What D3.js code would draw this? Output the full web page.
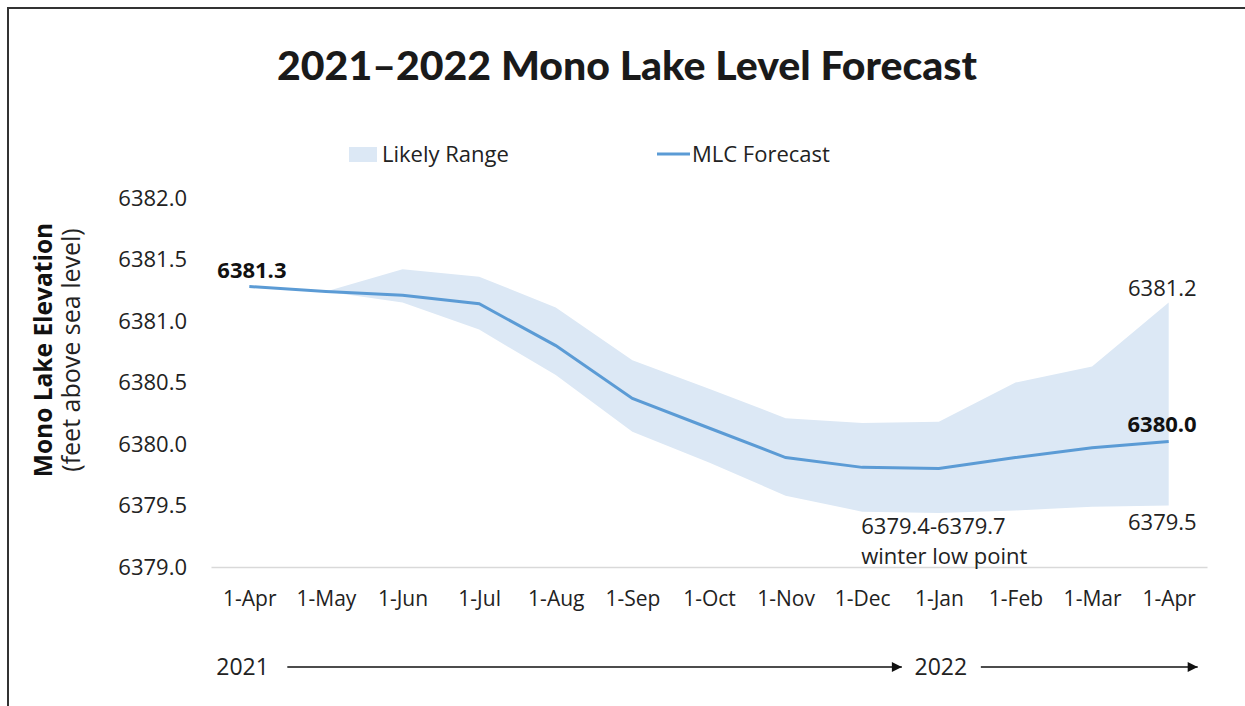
<!DOCTYPE html>
<html>
<head>
<meta charset="utf-8">
<script src="https://cdn.jsdelivr.net/npm/d3@7"></script>
<style>
    body { margin: 0; background: #fff; }
    text { font-family: "Open Sans", "Noto Sans", sans-serif; fill: #222; }
</style>
</head>
<body>
<div id="chart-area"></div>
<script>
const FIGURE = {
    WIDTH: 1245,
    HEIGHT: 706
};
const PLOT = {
    LEFT: 211,
    RIGHT: 1207,
    TOP: 198,
    BOTTOM: 567
};

// Values
const months = ["1-Apr", "1-May", "1-Jun", "1-Jul", "1-Aug", "1-Sep", "1-Oct",
    "1-Nov", "1-Dec", "1-Jan", "1-Feb", "1-Mar", "1-Apr"];
const forecast = [6381.28, 6381.24, 6381.21, 6381.14, 6380.80, 6380.37, 6380.13,
    6379.89, 6379.81, 6379.80, 6379.89, 6379.97, 6380.02];
const rangeHigh = [6381.28, 6381.24, 6381.42, 6381.36, 6381.11, 6380.68, 6380.45,
    6380.21, 6380.17, 6380.18, 6380.50, 6380.63, 6381.15];
const rangeLow = [6381.28, 6381.24, 6381.15, 6380.93, 6380.56, 6380.10, 6379.85,
    6379.58, 6379.45, 6379.44, 6379.46, 6379.49, 6379.50];
const yTicks = [6379.0, 6379.5, 6380.0, 6380.5, 6381.0, 6381.5, 6382.0];
const legendLabels = ["Likely Range", "MLC Forecast"];
const years = ["2021", "2022"];

const BAND_COLOR = "#dce8f5";
const LINE_COLOR = "#5b9bd5";

let svg = d3.select("#chart-area")
    .append("svg")
        .attr("width", FIGURE.WIDTH)
        .attr("height", FIGURE.HEIGHT);

// Frame (top and left edges only)
svg.append("path")
    .attr("d", `M8,${FIGURE.HEIGHT} V8 H${FIGURE.WIDTH}`)
    .attr("fill", "none")
    .attr("stroke", "#333")
    .attr("stroke-width", 2);

let x = d3.scalePoint()
    .domain(d3.range(months.length))
    .range([PLOT.LEFT, PLOT.RIGHT])
    .padding(0.5);

let y = d3.scaleLinear()
    .domain([6379, 6382])
    .range([PLOT.BOTTOM, PLOT.TOP]);

// Title
svg.append("text")
    .attr("x", 627)
    .attr("y", 80)
    .attr("text-anchor", "middle")
    .attr("textLength", 700)
    .attr("lengthAdjust", "spacingAndGlyphs")
    .style("font-family", "Lato, sans-serif")
    .style("font-weight", 900)
    .style("font-size", "40px")
    .style("fill", "#1a1a1a")
    .text("2021\u20132022 Mono Lake Level Forecast");

// Legend
let legend = svg.append("g");
legend.append("rect")
    .attr("x", 349).attr("y", 147)
    .attr("width", 28).attr("height", 15)
    .attr("fill", BAND_COLOR);
legend.append("text")
    .attr("x", 382).attr("y", 162)
    .style("font-size", "22px")
    .text(legendLabels[0]);
legend.append("line")
    .attr("x1", 657).attr("x2", 690)
    .attr("y1", 154).attr("y2", 154)
    .attr("stroke", LINE_COLOR)
    .attr("stroke-width", 3);
legend.append("text")
    .attr("x", 692).attr("y", 162)
    .style("font-size", "22px")
    .text(legendLabels[1]);

// Y axis
let yAxis = d3.axisLeft(y)
    .tickValues(yTicks)
    .tickFormat(d3.format(".1f"))
    .tickSize(0)
    .tickPadding(24);

svg.append("g")
    .attr("class", "y-axis")
    .attr("transform", `translate(${PLOT.LEFT}, 0)`)
    .call(yAxis)
    .call(g => g.select(".domain").remove())
    .selectAll("text")
        .style("font-family", "'Open Sans', sans-serif")
        .style("font-size", "22px")
        .attr("fill", "#222");

// Y axis title
let yTitle = svg.append("g")
    .attr("transform", "translate(0, 350) rotate(-90)");
yTitle.append("text")
    .attr("x", 0).attr("y", 52)
    .attr("text-anchor", "middle")
    .style("font-size", "24.5px")
    .style("font-weight", 700)
    .style("fill", "#111")
    .text("Mono Lake Elevation");
yTitle.append("text")
    .attr("x", 0).attr("y", 80)
    .attr("text-anchor", "middle")
    .style("font-size", "25px")
    .text("(feet above sea level)");

// Likely range band
let area = d3.area()
    .x((d, i) => x(i))
    .y0((d, i) => y(rangeLow[i]))
    .y1((d, i) => y(rangeHigh[i]));

svg.append("path")
    .datum(months)
    .attr("d", area)
    .attr("fill", BAND_COLOR);

// X axis
let xAxis = d3.axisBottom(x)
    .tickFormat(i => months[i])
    .tickSize(0)
    .tickSizeOuter(0)
    .tickPadding(24);

svg.append("g")
    .attr("class", "x-axis")
    .attr("transform", `translate(0, ${PLOT.BOTTOM})`)
    .call(xAxis)
    .call(g => g.select(".domain").attr("stroke", "#d9d9d9").attr("stroke-width", 1.5))
    .selectAll("text")
        .style("font-family", "'Open Sans', sans-serif")
        .style("font-size", "21px")
        .attr("fill", "#222");

// Forecast line
let line = d3.line()
    .x((d, i) => x(i))
    .y(d => y(d));

svg.append("path")
    .datum(forecast)
    .attr("d", line)
    .attr("fill", "none")
    .attr("stroke", LINE_COLOR)
    .attr("stroke-width", 3);

// Annotations
const last = months.length - 1;
let notes = svg.append("g").style("font-size", "22px");

notes.append("text")
    .attr("x", x(0) - 32).attr("y", y(forecast[0]) - 9)
    .style("font-weight", 700)
    .style("fill", "#111")
    .text("6381.3");
notes.append("text")
    .attr("x", x(last) + 28).attr("y", y(rangeHigh[last]) - 7)
    .attr("text-anchor", "end")
    .text("6381.2");
notes.append("text")
    .attr("x", x(last) + 28).attr("y", y(forecast[last]) - 10)
    .attr("text-anchor", "end")
    .style("font-weight", 700)
    .style("fill", "#111")
    .text("6380.0");
notes.append("text")
    .attr("x", x(last) + 28).attr("y", y(rangeLow[last]) + 24)
    .attr("text-anchor", "end")
    .text("6379.5");
notes.append("text")
    .attr("x", x(8) - 1).attr("y", y(rangeLow[8]) + 22)
    .text("6379.4-6379.7");
notes.append("text")
    .attr("x", x(8) - 1).attr("y", y(rangeLow[8]) + 52)
    .text("winter low point");

// Year timeline with arrows
svg.append("defs").append("marker")
    .attr("id", "arrow")
    .attr("viewBox", "0 0 10 10")
    .attr("refX", 10).attr("refY", 5)
    .attr("markerWidth", 12).attr("markerHeight", 10)
    .attr("markerUnits", "userSpaceOnUse")
    .attr("orient", "auto")
    .append("path")
        .attr("d", "M0,0 L10,5 L0,10 Z")
        .attr("fill", "#111");

const TIMELINE_Y = 667;
svg.append("text")
    .attr("x", x(0) - 33).attr("y", TIMELINE_Y + 8)
    .style("font-size", "23px")
    .text(years[0]);
svg.append("line")
    .attr("x1", x(0) + 38).attr("x2", x(9) - 37)
    .attr("y1", TIMELINE_Y).attr("y2", TIMELINE_Y)
    .attr("stroke", "#111").attr("stroke-width", 1.5)
    .attr("marker-end", "url(#arrow)");
svg.append("text")
    .attr("x", x(9) + 2).attr("y", TIMELINE_Y + 8)
    .attr("text-anchor", "middle")
    .style("font-size", "23px")
    .text(years[1]);
svg.append("line")
    .attr("x1", x(9) + 42).attr("x2", x(last) + 29)
    .attr("y1", TIMELINE_Y).attr("y2", TIMELINE_Y)
    .attr("stroke", "#111").attr("stroke-width", 1.5)
    .attr("marker-end", "url(#arrow)");
</script>
</body>
</html>
